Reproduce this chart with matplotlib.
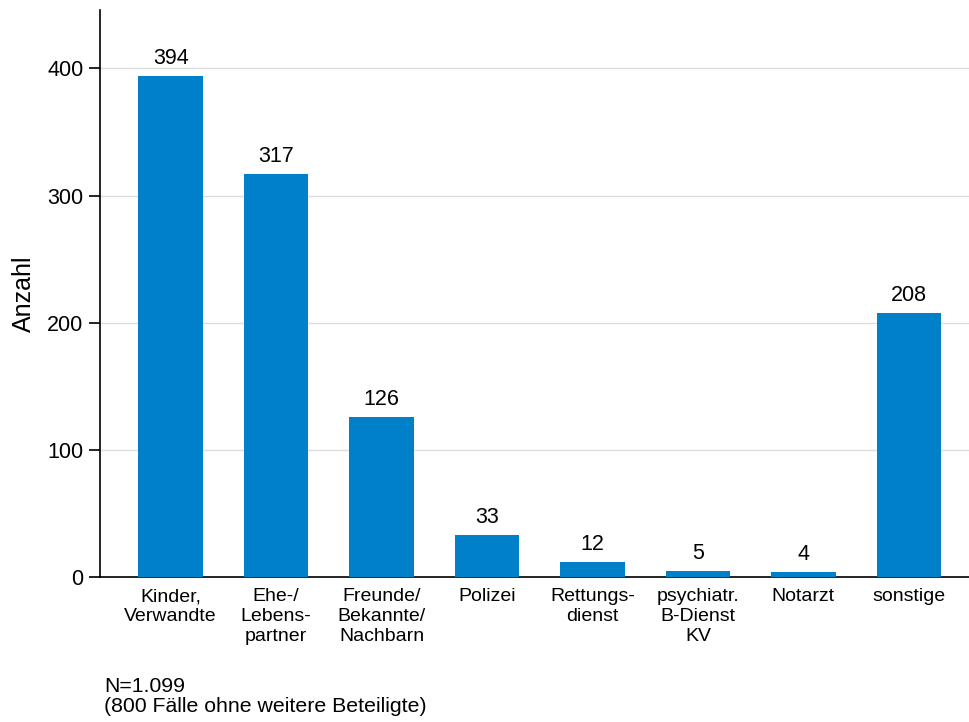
import matplotlib
matplotlib.use("Agg")
import matplotlib.pyplot as plt

plt.rcParams['font.family'] = ['Liberation Sans', 'DejaVu Sans']

categories = ["Kinder,\nVerwandte", "Ehe-/\nLebens-\npartner", "Freunde/\nBekannte/\nNachbarn",
              "Polizei", "Rettungs-\ndienst", "psychiatr.\nB-Dienst\nKV", "Notarzt", "sonstige"]
values = [394, 317, 126, 33, 12, 5, 4, 208]
yticks = [0, 100, 200, 300, 400]

fig = plt.figure(figsize=(9.69, 7.22), dpi=100)
ax = fig.add_axes([100/969, 145/722, 869/969, 567/722])

x = list(range(len(categories)))
bars = ax.bar(x, values, width=0.61, color="#0080C8", zorder=3)
for xi, v in zip(x, values):
    ax.annotate(str(v), (xi, v), xytext=(0, 5), textcoords="offset points",
                ha="center", va="bottom", fontsize=15.5)

ax.set_xlim(-0.67, 7.57)
ax.set_ylim(0, 446)
ax.set_yticks(yticks)
ax.set_yticklabels([str(t) for t in yticks], fontsize=15.5)
ax.set_xticks(x)
ax.set_xticklabels(categories, fontsize=14, linespacing=1.22)
ax.tick_params(axis='x', length=0, pad=8)
ax.tick_params(axis='y', length=8, width=1.2, direction='out', pad=4)
ax.yaxis.grid(True, color="#dddddd", linewidth=1, zorder=0)
for s in ["top", "right"]:
    ax.spines[s].set_visible(False)
ax.spines["left"].set_linewidth(1.2)
ax.spines["bottom"].set_linewidth(1.2)
ax.set_ylabel("Anzahl", fontsize=18, labelpad=8)

fig.text(104/969, 1 - 686/722, "N=1.099", fontsize=15.3, va="center", ha="left")
fig.text(104/969, 1 - 707/722, "(800 Fälle ohne weitere Beteiligte)", fontsize=15.3, va="center", ha="left")

fig.savefig("out.png", dpi=100)
